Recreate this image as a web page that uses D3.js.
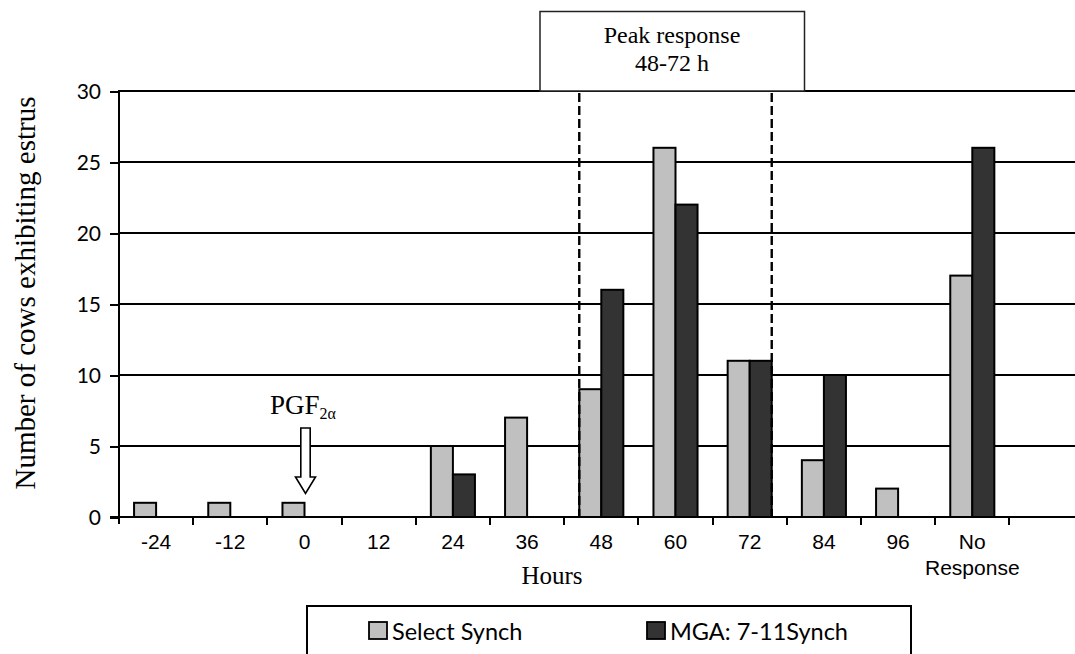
<!DOCTYPE html>
<html>
<head>
<meta charset="utf-8">
<script src="https://cdn.jsdelivr.net/npm/d3@7"></script>
<style>
  html, body { margin: 0; padding: 0; background: #fff; }
  svg { display: block; }
</style>
</head>
<body>
<svg id="chart" width="1075" height="654"></svg>
<script>
// ---- data ----
const categories = ["-24", "-12", "0", "12", "24", "36", "48", "60", "72", "84", "96", "No Response", ""];
const selectSynch = [1, 1, 1, 0, 5, 7, 9, 26, 11, 4, 2, 17, 0];
const mgaSynch = [0, 0, 0, 0, 3, 0, 16, 22, 11, 10, 0, 26, 0];
const seriesNames = ["Select Synch", "MGA: 7-11Synch"];
const yTicks = [0, 5, 10, 15, 20, 25, 30];
const peakStart = "48", peakEnd = "72";
const pgfCategory = "0";

const colors = ["#c0c0c0", "#333333"];

const svg = d3.select("#chart");
const left = 119, bandW = 74.2;
const x = d3.scaleBand().domain(categories)
  .range([left, left + bandW * categories.length]).padding(0);
const y = d3.scaleLinear().domain([0, 30]).range([517, 91]);
const barW = x.bandwidth() * 0.297;

// gridlines
svg.append("g").selectAll("line").data(yTicks.filter(d => d > 0)).join("line")
  .attr("x1", left).attr("x2", 1075)
  .attr("y1", d => Math.round(y(d))).attr("y2", d => Math.round(y(d)))
  .attr("stroke", "#000").attr("stroke-width", 2).attr("shape-rendering", "crispEdges");

// y axis
const yAxis = d3.axisLeft(y).tickValues(yTicks).tickSize(9).tickSizeOuter(0);
const gy = svg.append("g").attr("transform", `translate(${left},0)`).call(yAxis);
gy.select(".domain").remove();
gy.selectAll(".tick line").attr("stroke", "#000").attr("stroke-width", 2).attr("shape-rendering", "crispEdges");
gy.selectAll(".tick text").attr("x", -18).attr("dy", "0.34em")
  .style("font-family", "Lato, 'Open Sans', sans-serif").style("font-size", "21px").attr("fill", "#000");
svg.append("line").attr("x1", left).attr("x2", left).attr("y1", y(30) - 1).attr("y2", y(0) + 7)
  .attr("stroke", "#000").attr("stroke-width", 2.5).attr("shape-rendering", "crispEdges");

// bars
const series = [selectSynch, mgaSynch];
series.forEach((vals, si) => {
  svg.append("g").selectAll("rect")
    .data(categories.map((c, i) => ({ c, v: vals[i] })).filter(d => d.v > 0))
    .join("rect")
    .attr("x", d => x(d.c) + x.bandwidth() / 2 - barW + si * barW)
    .attr("y", d => y(d.v))
    .attr("width", barW)
    .attr("height", d => y(0) - y(d.v))
    .attr("fill", colors[si])
    .attr("stroke", "#000").attr("stroke-width", 2);
});

// x axis
svg.append("line").attr("x1", left - 9).attr("x2", 1075).attr("y1", y(0)).attr("y2", y(0))
  .attr("stroke", "#000").attr("stroke-width", 2.5).attr("shape-rendering", "crispEdges");
svg.append("g").selectAll("line").data(categories.slice(1)).join("line")
  .attr("x1", d => x(d)).attr("x2", d => x(d))
  .attr("y1", y(0)).attr("y2", y(0) + 8)
  .attr("stroke", "#000").attr("stroke-width", 2).attr("shape-rendering", "crispEdges");
const xl = svg.append("g").selectAll("text").data(categories).join("text")
  .attr("x", d => x(d) + x.bandwidth() / 2)
  .attr("y", 549)
  .attr("text-anchor", "middle")
  .style("font-family", "'Liberation Sans', Arial, sans-serif").style("font-size", "21px")
  .attr("fill", "#000");
xl.each(function (d) {
  const parts = d.split(" ");
  const t = d3.select(this);
  parts.forEach((p, i) => {
    t.append("tspan").attr("x", x(d) + x.bandwidth() / 2).attr("dy", i === 0 ? 0 : 26).text(p);
  });
});

// axis titles
svg.append("text").attr("x", 552).attr("y", 584).attr("text-anchor", "middle")
  .style("font-family", "'Liberation Serif', 'Times New Roman', serif").style("font-size", "25px")
  .text("Hours");
svg.append("text").attr("transform", "translate(35,293) rotate(-90)").attr("text-anchor", "middle")
  .style("font-family", "'Liberation Serif', 'Times New Roman', serif").style("font-size", "29px")
  .text("Number of cows exhibiting estrus");

// peak response dashed lines
const px1 = x(peakStart) + x.bandwidth() / 2 - barW;
const px2 = x(peakEnd) + x.bandwidth() / 2 + barW;
[px1, px2].forEach(px => {
  svg.append("line").attr("x1", px).attr("x2", px).attr("y1", y(30) + 2).attr("y2", y(0))
    .attr("stroke", "#000").attr("stroke-width", 2.4).attr("stroke-dasharray", "9,4");
});

// peak response box
svg.append("rect").attr("x", 540).attr("y", 11.5).attr("width", 264.5).attr("height", y(30) - 11.5)
  .attr("fill", "#fff").attr("stroke", "#222").attr("stroke-width", 1.5);
const pt = svg.append("text").attr("text-anchor", "middle")
  .style("font-family", "'Liberation Serif', 'Times New Roman', serif").style("font-size", "24px");
pt.append("tspan").attr("x", 672).attr("y", 43).text("Peak response");
pt.append("tspan").attr("x", 672).attr("y", 71).text("48-72 h");

// PGF2α annotation
const ax = x(pgfCategory) + x.bandwidth() / 2 + 1;
const pg = svg.append("text").attr("x", 270).attr("y", 414)
  .style("font-family", "'Liberation Serif', 'Times New Roman', serif").style("font-size", "27px");
pg.append("tspan").text("PGF");
pg.append("tspan").attr("dy", 5).style("font-size", "16px").text("2α");
const arrowPts = [
  [ax - 4.7, 428], [ax + 4.7, 428], [ax + 4.7, 477], [ax + 10, 477],
  [ax, 493.5], [ax - 10, 477], [ax - 4.7, 477]
];
svg.append("polygon").attr("points", arrowPts.map(p => p.join(",")).join(" "))
  .attr("fill", "#fff").attr("stroke", "#000").attr("stroke-width", 1.6);

// legend
svg.append("rect").attr("x", 307).attr("y", 606).attr("width", 604).attr("height", 80)
  .attr("fill", "#fff").attr("stroke", "#000").attr("stroke-width", 2);
const legX = [369, 647];
seriesNames.forEach((n, i) => {
  svg.append("rect").attr("x", legX[i]).attr("y", 622).attr("width", 18).attr("height", 17)
    .attr("fill", colors[i]).attr("stroke", "#000").attr("stroke-width", 1.8);
  svg.append("text").attr("x", legX[i] + 23).attr("y", 640)
    .style("font-family", "Lato, 'Open Sans', sans-serif").style("font-size", "23.5px")
    .text(n);
});
</script>
</body>
</html>
